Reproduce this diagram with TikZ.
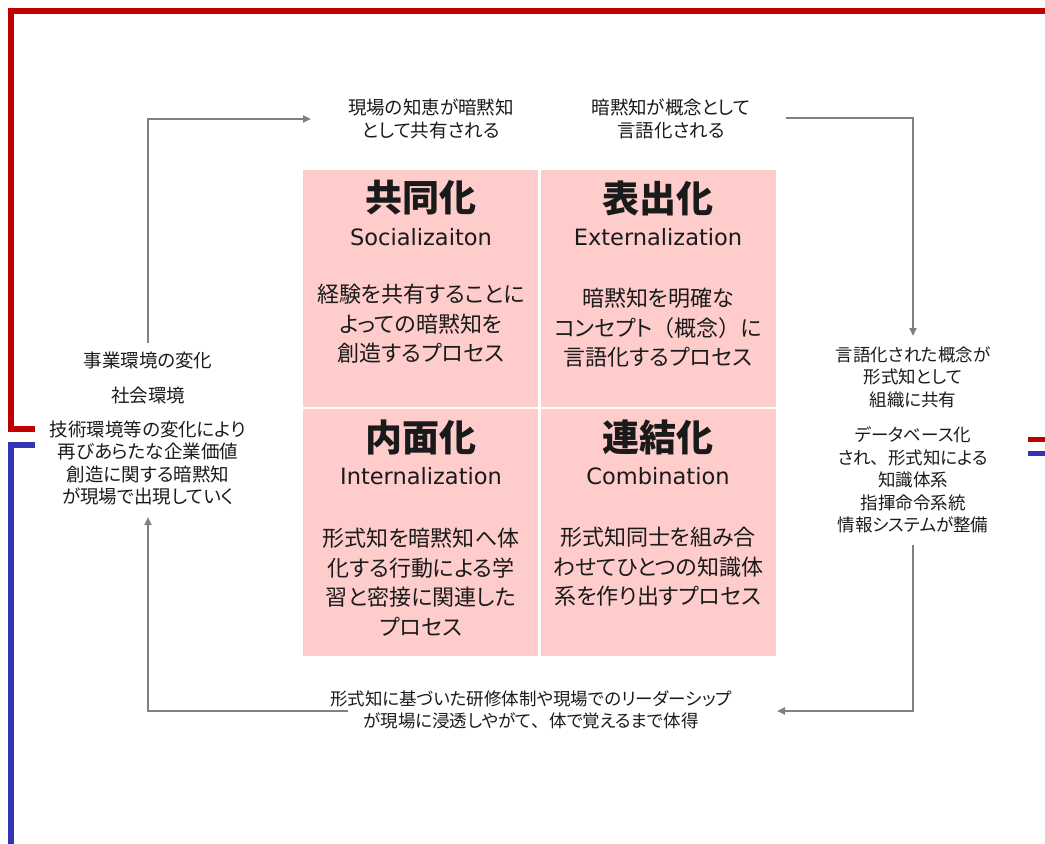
\documentclass[tikz,border=0pt]{standalone}
\usepackage{fontspec}
\setmainfont{Noto Sans CJK JP}[RawFeature=+palt]
\newfontfamily\cjkfull{Noto Sans CJK JP}
\newfontfamily\latinfont{DejaVu Sans}
\usetikzlibrary{arrows.meta}
\definecolor{quadpink}{HTML}{FFCCCC}
\definecolor{arrgray}{HTML}{808080}
\definecolor{frred}{HTML}{C00000}
\definecolor{frblue}{HTML}{3333B5}
\definecolor{txt}{HTML}{1A1A1A}
\begin{document}
\begin{tikzpicture}[x=1pt,y=-1pt,
  quad/.style={fill=quadpink,draw=none,inner sep=0pt,minimum width=235pt,minimum height=237pt},
  ttl/.style={text=txt,inner sep=0pt,font=\fontsize{37}{42}\selectfont\bfseries},
  eng/.style={text=txt,inner sep=0pt,font=\fontsize{22.5}{26}\selectfont\latinfont},
  body/.style={text=txt,inner sep=0pt,align=center,font=\fontsize{22}{29.5}\selectfont},
  note/.style={text=txt,inner sep=0pt,align=center,font=\fontsize{18.5}{22.2}\selectfont},
  snote/.style={note,font=\fontsize{17.5}{22.5}\selectfont},
  arr/.style={draw=arrgray,line width=2.4pt,-{Triangle[length=8pt,width=7pt]}},
  frame/.style={line width=6pt,miter limit=10}
]
\useasboundingbox (0,0) rectangle (1045,844);
% frame lines
\draw[frame,draw=frred] (35,429) -- (11,429) -- (11,11) -- (1045,11);
\draw[frame,draw=frblue] (35,445) -- (11,445) -- (11,844);
\draw[line width=5pt,draw=frred] (1028,439) -- (1045,439);
\draw[line width=5pt,draw=frblue] (1028,453) -- (1045,453);
% quadrants
\node[quad] (q1) at (420.5,288.5) {};
\node[quad] (q2) at (658,288.5) {};
\node[quad,minimum height=247pt] (q3) at (420.5,532.5) {};
\node[quad,minimum height=247pt] (q4) at (658,532.5) {};
% quadrant texts
\node[ttl] (t1) at (421,198) {共同化};
\node[eng] (e1) at (421,237) {Socializaiton};
\node[body] (b1) at (421,324) {経験を共有することに\\よっての暗黙知を\\創造するプロセス};
\node[ttl] (t2) at (658,198) {表出化};
\node[eng] (e2) at (658,237) {Externalization};
\node[body] (b2) at (658,328) {暗黙知を明確な\\コンセプト{\cjkfull（}概念{\cjkfull）}に\\言語化するプロセス};
\node[ttl] (t3) at (421,437) {内面化};
\node[eng] (e3) at (421,476) {Internalization};
\node[body] (b3) at (421,582) {形式知を暗黙知へ体\\化する行動による学\\習と密接に関連した\\プロセス};
\node[ttl] (t4) at (658,437) {連結化};
\node[eng] (e4) at (658,476) {Combination};
\node[body] (b4) at (658,567) {形式知同士を組み合\\わせてひとつの知識体\\系を作り出すプロセス};
% outer notes
\node[note] (n1) at (431,119) {現場の知恵が暗黙知\\として共有される};
\node[note] (n2) at (671,119) {暗黙知が概念として\\言語化される};
\node[snote] (r1) at (913,377) {言語化された概念が\\形式知として\\組織に共有};
\node[snote] (r2) at (913,480) {データベース化\\され{\cjkfull 、}形式知による\\知識体系\\指揮命令系統\\情報システムが整備};
\node[snote] (bt) at (531,710) {形式知に基づいた研修体制や現場でのリーダーシップ\\が現場に浸透しやがて{\cjkfull 、}体で覚えるまで体得};
\node[note] (l1) at (148,360) {事業環境の変化};
\node[note] (l2) at (148,395) {社会環境};
\node[note] (l3) at (148,463) {技術環境等の変化により\\再びあらたな企業価値\\創造に関する暗黙知\\が現場で出現していく};
% arrow end points
\coordinate (a1s) at (148,343);
\coordinate (a1e) at (311,119);
\coordinate (a2s) at (786,118);
\coordinate (a2e) at (913,336);
\coordinate (a3s) at (913,545);
\coordinate (a3e) at (777,711);
\coordinate (a4s) at (348,711);
\coordinate (a4e) at (148,517);
\draw[arr] (a1s) |- (a1e);
\draw[arr] (a2s) -| (a2e);
\draw[arr] (a3s) |- (a3e);
\draw[arr] (a4s) -| (a4e);
\end{tikzpicture}
\end{document}
